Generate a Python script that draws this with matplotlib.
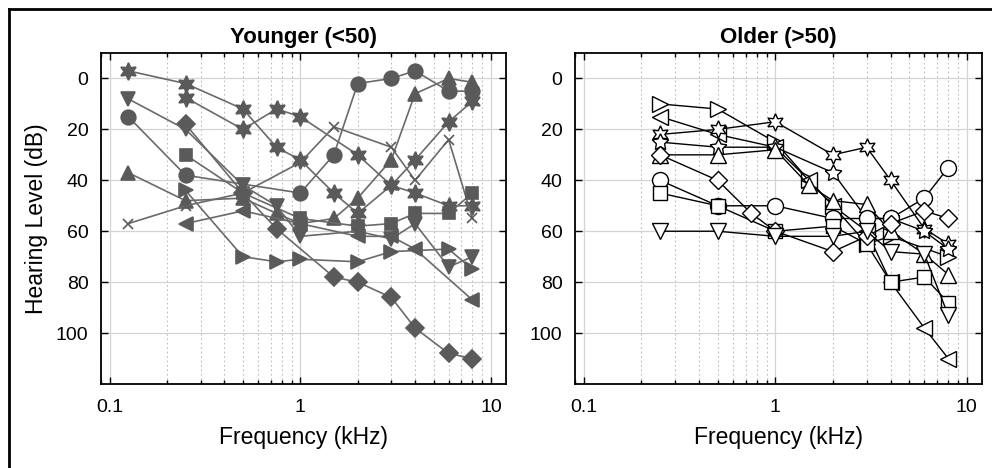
import numpy as np
import matplotlib
matplotlib.use("Agg")
import matplotlib.pyplot as plt
from matplotlib.lines import Line2D
from matplotlib.ticker import LogLocator, NullFormatter, FixedLocator, FixedFormatter

plt.rcParams['font.family'] = ['Liberation Sans', 'DejaVu Sans']

nan = np.nan

# ---------------- data ----------------
freq_young = [0.125, 0.25, 0.5, 0.75, 1, 1.5, 2, 3, 4, 6, 8]
young_hexagram = [-3, 2, 12, 27, 32, 45, 53, 42, 32, 17, 9]
young_pentagram = [nan, 7.5, 20, 12, 15, nan, 30, 42, 45, 50, 50]
young_circle = [15, 38, nan, nan, 45, 30, 2, 0, -3, 5, 5]
young_tri_up = [37, 48, 47, 53, 57, 55, 47, 32, 6, 0, 1.5]
young_cross = [57, 50, 45, nan, 33, 19, nan, 27, 40, 24, 55]
young_diamond = [nan, 18, 45, 59, nan, 78, 80, 86, 98, 108, 110]
young_square = [nan, 30, 45, nan, 55, nan, 58, 57, 53, 53, 45]
young_tri_down = [8, 20, 42, 50, 62, nan, 60, 63, 57, 74, 70]
young_tri_right = [nan, 44, 70, 72, 71, nan, 72, 68, nan, 67, 75]
young_tri_left = [nan, 57, 52, nan, 57, nan, 62, 62, 67, nan, 87]

freq_old = [0.25, 0.5, 0.75, 1, 1.5, 2, 3, 4, 6, 8]
old_tri_right = [10, 12, nan, 25, 40, 50, 65, 62, nan, 70]
old_tri_left = [15, 22, nan, 27, 40, 50, 60, 80, 98, 110]
old_hexagram = [22, 20, nan, 17, nan, 30, 27, 40, 59, 65]
old_pentagram = [25, 27, nan, 27, nan, 37, 55, 55, 60, 67]
old_tri_up = [30, 30, nan, 28, 42, 48, 49.5, 60, 69, 77]
old_circle = [40, 50, nan, 50, nan, 55, 55, 55, 47, 35]
old_square = [45, 50, nan, 60, nan, 58, 65, 80, 78, 88]
old_diamond = [30, 40, 53, 60, nan, 68, 62, 57, 52, 55]
old_tri_down = [60, 60, nan, 62, nan, 62, 60, 68, 69, 93]

xtick_vals = [0.1, 1, 10]
xtick_labels = ['0.1', '1', '10']
ytick_vals = [0, 20, 40, 60, 80, 100]

HEX = (6, 1, 0)
PENT = (5, 1, 0)

young_series = [
    (young_hexagram, HEX, 12.5),
    (young_pentagram, HEX, 12.5),
    (young_circle, 'o', 10.5),
    (young_tri_up, '^', 10.5),
    (young_cross, 'x', 7),
    (young_diamond, 'D', 9),
    (young_square, 's', 9),
    (young_tri_down, 'v', 10.5),
    (young_tri_right, '>', 10.5),
    (young_tri_left, '<', 10.5),
]
old_series = [
    (old_tri_right, '>', 11.5),
    (old_tri_left, '<', 11.5),
    (old_hexagram, HEX, 12.5),
    (old_pentagram, PENT, 12.5),
    (old_tri_up, '^', 11.5),
    (old_circle, 'o', 11.5),
    (old_square, 's', 9.5),
    (old_diamond, 'D', 9.5),
    (old_tri_down, 'v', 11.5),
]

fig = plt.figure(figsize=(9.92, 4.68), dpi=100)
ax1 = fig.add_axes([101/992, 1-384/468, 405/992, 331/468])
ax2 = fig.add_axes([575/992, 1-384/468, 407/992, 331/468])


def style(ax, title):
    ax.set_xscale('log')
    ax.set_xlim(0.09, 12)
    ax.set_ylim(120, -10)
    ax.xaxis.set_major_locator(FixedLocator(xtick_vals))
    ax.xaxis.set_major_formatter(FixedFormatter(xtick_labels))
    ax.xaxis.set_minor_locator(LogLocator(base=10, subs=np.arange(2, 10)))
    ax.xaxis.set_minor_formatter(NullFormatter())
    ax.set_yticks(ytick_vals)
    ax.grid(True, which='major', color='#d4d4d4', lw=0.9, ls='-')
    ax.grid(True, which='minor', axis='x', color='#bcbcbc', lw=0.8, ls=(0, (1.5, 2.5)))
    ax.set_axisbelow(True)
    ax.tick_params(which='both', direction='in', top=True, right=True,
                   labelsize=14, width=1.0, color='black')
    ax.tick_params(axis='x', which='major', length=5, pad=11)
    ax.tick_params(axis='y', which='major', length=5, pad=9)
    ax.tick_params(which='minor', length=3)
    for s in ax.spines.values():
        s.set_linewidth(1.3)
        s.set_color('black')
    ax.set_title(title, fontsize=16, fontweight='bold', pad=7)
    ax.set_xlabel('Frequency (kHz)', fontsize=16.5, labelpad=7)


style(ax1, 'Younger (<50)')
style(ax2, 'Older (>50)')
ax1.set_ylabel('Hearing Level (dB)', fontsize=16.5, labelpad=6)

fy = np.array(freq_young)
for vals, mk, ms in young_series:
    v = np.array(vals, dtype=float)
    m = ~np.isnan(v)
    ax1.plot(fy[m], v[m], color='#6a6a6a', lw=1.2, marker=mk, ms=ms,
             mfc='#5a5a5a', mec='#5a5a5a', mew=1.2, zorder=3)

fo = np.array(freq_old)
for vals, mk, ms in old_series:
    v = np.array(vals, dtype=float)
    m = ~np.isnan(v)
    ax2.plot(fo[m], v[m], color='black', lw=1.0, marker=mk, ms=ms,
             mfc='white', mec='black', mew=1.0, zorder=3)

# figure frame (top and left edges visible)
fig.add_artist(Line2D([8.5/992, 8.5/992], [0, 1-8.5/468], transform=fig.transFigure,
                      color='black', lw=2.0))
fig.add_artist(Line2D([8.5/992, 1], [1-8.5/468, 1-8.5/468], transform=fig.transFigure,
                      color='black', lw=2.0))

fig.savefig('out.png', dpi=100)
